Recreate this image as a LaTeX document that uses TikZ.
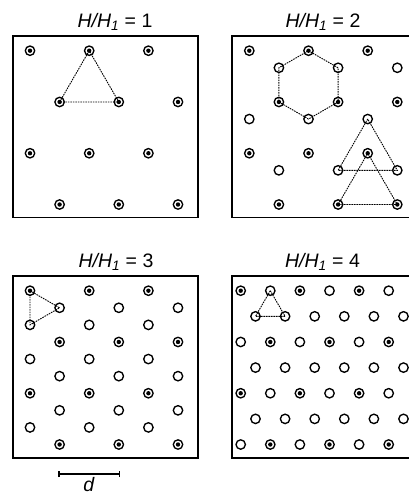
\documentclass[tikz,border=0pt]{standalone}
\usepackage{fontspec}
\setmainfont{Liberation Sans}
\begin{document}
\begin{tikzpicture}[x=1pt,y=-1pt,
  vopen/.style={draw, circle, line width=1.35pt, minimum size=9.4pt, inner sep=0pt},
  vfill/.style={vopen, path picture={\fill (path picture bounding box.center) circle (2.2pt);}},
  frame/.style={draw, line width=1.5pt},
  guide/.style={draw, line width=0.9pt, dash pattern=on 1.6pt off 0.9pt},
  title/.style={anchor=base, inner sep=0pt, font=\fontsize{19.5}{22}\selectfont}
]
\useasboundingbox (0,0) rectangle (409,496);
\clip (0,0) rectangle (409,496);

% frames
\draw[frame] (13,36) rectangle (198,217.5);
\draw[frame] (232,36) rectangle (418,217.5);
\draw[frame] (13,276) rectangle (198,458);
\draw[frame] (232,276) rectangle (418,458);

% titles
\node[title] (t1) at (115,27.5) {\textit{H/H}\textsubscript{\textit{1}} = 1};
\node[title] (t2) at (323,27.5) {\textit{H/H}\textsubscript{\textit{1}} = 2};
\node[title] (t3) at (116,267.5) {\textit{H/H}\textsubscript{\textit{1}} = 3};
\node[title] (t4) at (322.5,267.5) {\textit{H/H}\textsubscript{\textit{1}} = 4};

% panel 1
\foreach \r in {0,...,3} \foreach \i in {0,1,2} {
  \pgfmathsetmacro\x{30 + \i*59.2 + mod(\r,2)*29.6}
  \pgfmathsetmacro\y{50.7 + \r*51.27}
  \node[vfill] (A-\r-\i) at (\x,\y) {};
}
\draw[guide] (A-0-1.center) -- (A-1-0.center) -- (A-1-1.center) -- cycle;

% panel 2
\foreach \r in {0,...,3} \foreach \i in {0,1,2} {
  \pgfmathsetmacro\x{249.3 + \i*59.2 + mod(\r,2)*29.6}
  \pgfmathsetmacro\y{50.7 + \r*51.27}
  \node[vfill] (B-\r-\i) at (\x,\y) {};
}
\foreach \r in {0,1,2} \foreach \i in {0,1,2} {
  \pgfmathsetmacro\x{249.3 + \i*59.2 + (1-mod(\r,2))*29.6}
  \pgfmathsetmacro\y{50.7 + \r*51.27 + 17.09}
  \node[vopen] (C-\r-\i) at (\x,\y) {};
}
\draw[guide] (B-0-1.center) -- (C-0-1.center) -- (B-1-1.center) -- (C-1-1.center)
  -- (B-1-0.center) -- (C-0-0.center) -- cycle;
\draw[guide] (C-1-2.center) -- (C-2-1.center) -- (C-2-2.center) -- cycle;
\draw[guide] (B-2-2.center) -- (B-3-1.center) -- (B-3-2.center) -- cycle;

% panel 3
\foreach \c in {0,...,5} \foreach \r in {0,...,4} {
  \pgfmathsetmacro\x{30 + \c*29.6}
  \pgfmathsetmacro\y{290.7 + mod(\c,2)*17.09 + \r*34.18}
  \pgfmathtruncatemacro\f{mod(\r+2*mod(\c,2),3)==0}
  \ifnum\f=1 \def\st{vfill}\else\def\st{vopen}\fi
  \node[\st] (D-\c-\r) at (\x,\y) {};
}
\draw[guide] (D-0-0.center) -- (D-1-0.center) -- (D-0-1.center) -- cycle;

% panel 4
\foreach \R in {0,...,6} \foreach \i in {0,...,5} {
  \pgfmathsetmacro\x{240.7 + mod(\R,2)*14.8 + \i*29.6}
  \pgfmathsetmacro\y{290.7 + \R*25.635}
  \pgfmathtruncatemacro\f{(mod(\R,2)==0)*(mod(\i+int(\R/2),2)==0)}
  \ifnum\f=1 \def\st{vfill}\else\def\st{vopen}\fi
  \node[\st] (E-\R-\i) at (\x,\y) {};
}
\draw[guide] (E-0-1.center) -- (E-1-0.center) -- (E-1-1.center) -- cycle;

% scale bar
\coordinate (sbL) at (59,474);
\coordinate (sbR) at (119.5,474);
\draw[line width=1.2pt] (sbL) -- (sbR);
\draw[line width=1.2pt] ([yshift=-3pt]sbL) -- ([yshift=3pt]sbL);
\draw[line width=1.2pt] ([yshift=-3pt]sbR) -- ([yshift=3pt]sbR);
\node[title] (dl) at (89,491.5) {\textit{d}};
\end{tikzpicture}
\end{document}
